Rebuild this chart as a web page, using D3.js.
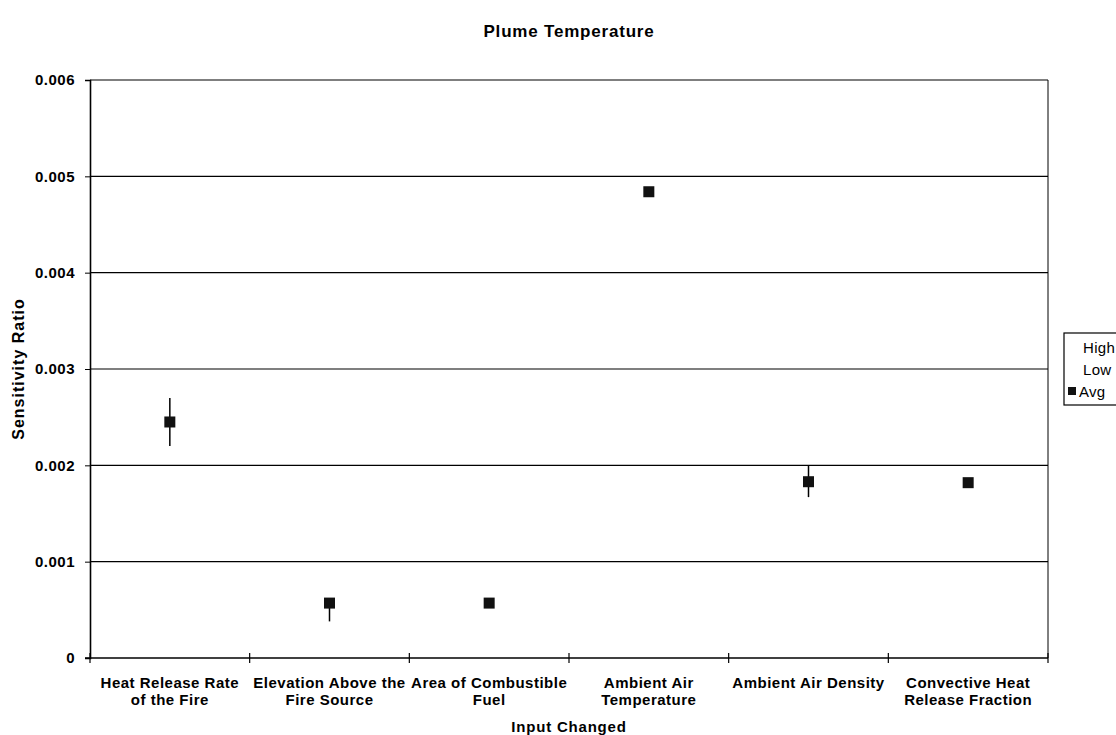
<!DOCTYPE html>
<html>
<head>
<meta charset="utf-8">
<script src="https://cdn.jsdelivr.net/npm/d3@7"></script>
<style>
  body { margin: 0; background: #fff; }
  svg { display: block; font-family: "Liberation Sans", Arial, sans-serif; }
</style>
</head>
<body>
<svg id="chart" width="1116" height="735"></svg>
<script>
// Sensitivity of plume temperature to each input (high / low / average ratio)
const categories = [
  ["Heat Release Rate", "of the Fire"],
  ["Elevation Above the", "Fire Source"],
  ["Area of Combustible", "Fuel"],
  ["Ambient Air", "Temperature"],
  ["Ambient Air Density"],
  ["Convective Heat", "Release Fraction"]
];
const highValues = [0.0027, 0.00057, 0.00057, 0.00484, 0.0020, 0.00182];
const lowValues  = [0.0022, 0.00038, 0.00057, 0.00484, 0.00167, 0.00182];
const avgValues  = [0.00245, 0.00057, 0.00057, 0.00484, 0.00183, 0.00182];
const yTicks = [0, 0.001, 0.002, 0.003, 0.004, 0.005, 0.006];
const legendItems = ["High", "Low", "Avg"];

const svg = d3.select("#chart");
const m = { left: 90, right: 1048, top: 80, bottom: 658 };

const x = d3.scaleBand().domain(d3.range(categories.length)).range([m.left, m.right]);
const y = d3.scaleLinear().domain([0, 0.006]).range([m.bottom, m.top]);

// gridlines
svg.append("g").selectAll("line").data(yTicks.slice(1)).join("line")
  .attr("x1", m.left).attr("x2", m.right)
  .attr("y1", d => y(d)).attr("y2", d => y(d))
  .attr("stroke", "#000").attr("stroke-width", 1.2);

// right border of the plot area
svg.append("line").attr("x1", m.right).attr("x2", m.right)
  .attr("y1", m.top).attr("y2", m.bottom).attr("stroke", "#000").attr("stroke-width", 1);

// y axis
const yAxis = svg.append("g").attr("transform", `translate(${m.left},0)`)
  .call(d3.axisLeft(y).tickValues(yTicks).tickSize(5).tickPadding(10)
    .tickFormat(d => d === 0 ? "0" : d3.format(".3f")(d)));
yAxis.select(".domain").attr("stroke-width", 1.6);
yAxis.selectAll("text").attr("font-size", 15).attr("font-weight", "bold")
  .attr("letter-spacing", 0.5).attr("fill", "#000");

// x axis with ticks at category boundaries
const boundaries = d3.range(categories.length + 1).map(i => m.left + i * x.bandwidth());
const xg = svg.append("g");
xg.append("line").attr("x1", m.left - 5).attr("x2", m.right)
  .attr("y1", m.bottom).attr("y2", m.bottom).attr("stroke", "#000").attr("stroke-width", 1.6);
xg.selectAll("line.t").data(boundaries).join("line").attr("class", "t")
  .attr("x1", d => d).attr("x2", d => d)
  .attr("y1", m.bottom - 5).attr("y2", m.bottom + 5).attr("stroke", "#000").attr("stroke-width", 1.2);

// category labels
const lab = svg.append("g").selectAll("text").data(categories).join("text")
  .attr("text-anchor", "middle").attr("font-size", 15).attr("font-weight", "bold")
  .attr("letter-spacing", 0.5)
  .attr("transform", (d, i) => `translate(${x(i) + x.bandwidth() / 2},${m.bottom + 30})`);
lab.selectAll("tspan").data(d => d).join("tspan")
  .attr("x", 0).attr("dy", (d, i) => i === 0 ? 0 : 17).text(d => d);

// high-low lines
const cx = i => x(i) + x.bandwidth() / 2;
svg.append("g").selectAll("line").data(categories).join("line")
  .attr("x1", (d, i) => cx(i)).attr("x2", (d, i) => cx(i))
  .attr("y1", (d, i) => y(highValues[i])).attr("y2", (d, i) => y(lowValues[i]))
  .attr("stroke", "#000").attr("stroke-width", 1.5);

// average markers
const ms = 11;
svg.append("g").selectAll("rect").data(avgValues).join("rect")
  .attr("x", (d, i) => cx(i) - ms / 2).attr("y", d => y(d) - ms / 2)
  .attr("width", ms).attr("height", ms).attr("fill", "#111");

// titles
svg.append("text").attr("x", 569).attr("y", 37).attr("text-anchor", "middle")
  .attr("font-size", 17).attr("font-weight", "bold").attr("letter-spacing", 0.8)
  .text("Plume Temperature");
svg.append("text").attr("x", 569).attr("y", 732).attr("text-anchor", "middle")
  .attr("font-size", 15).attr("font-weight", "bold").attr("letter-spacing", 0.8)
  .text("Input Changed");
svg.append("text").attr("transform", "translate(24,369) rotate(-90)").attr("text-anchor", "middle")
  .attr("font-size", 16).attr("font-weight", "bold").attr("letter-spacing", 1)
  .text("Sensitivity Ratio");

// legend
const lg = svg.append("g");
lg.append("rect").attr("x", 1064).attr("y", 333).attr("width", 70).attr("height", 72)
  .attr("fill", "#fff").attr("stroke", "#000").attr("stroke-width", 1.2);
lg.selectAll("text").data(legendItems).join("text")
  .attr("x", (d, i) => i === 2 ? 1079 : 1083).attr("y", (d, i) => 353 + i * 22)
  .attr("font-size", 15).attr("letter-spacing", 0.3).text(d => d);
lg.append("rect").attr("x", 1068).attr("y", 387).attr("width", 8).attr("height", 8).attr("fill", "#111");
</script>
</body>
</html>
